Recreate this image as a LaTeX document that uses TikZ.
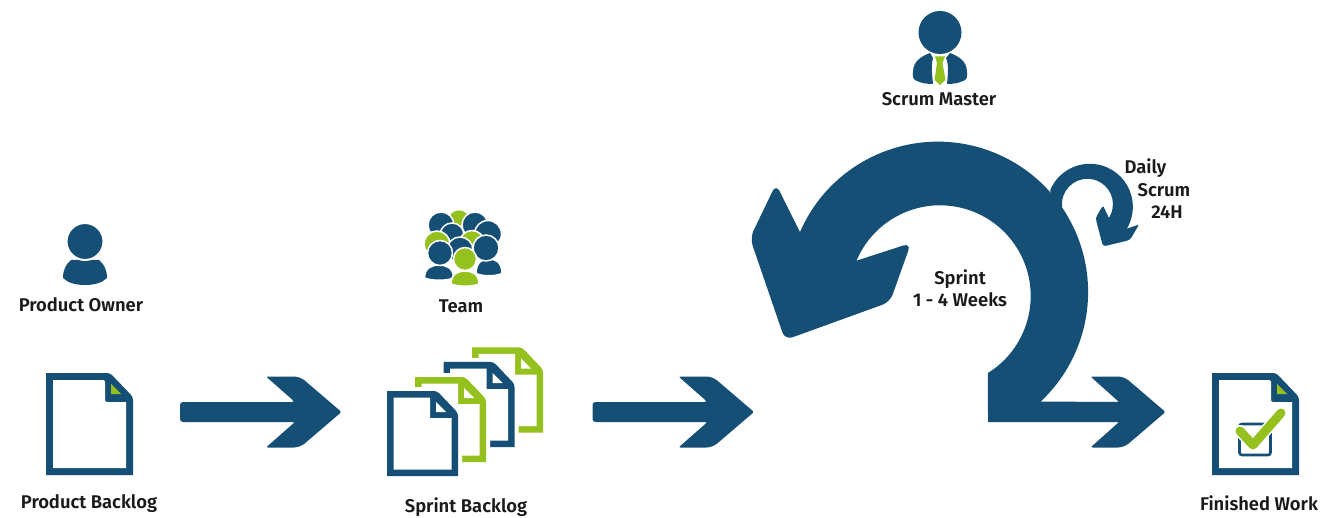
\documentclass[tikz,border=0pt]{standalone}
\usepackage{fontspec}
\setmainfont{Fira Sans}[BoldFont={* SemiBold}]
\usetikzlibrary{calc}
\definecolor{scrumblue}{HTML}{164F75}
\definecolor{scrumgreen}{HTML}{95C11F}
\definecolor{inktext}{HTML}{1A1A1A}
\tikzset{
  caption/.style={font=\bfseries\fontsize{18.4}{22}\selectfont,text=inktext,inner sep=0pt,align=center},
  blueshape/.style={fill=scrumblue,draw=none},
  greenshape/.style={fill=scrumgreen,draw=none},
  whiteshape/.style={fill=white,draw=none},
}
% large page: 87 x 102
\newcommand{\bigpage}[4]{%
  \begin{scope}[shift={(#1,#2)}]
    \fill[#3] (0,0) [rounded corners=3pt] -- (64,0) -- (87,24) [sharp corners] -- (87,102) -- (0,102) -- cycle;
    \fill[whiteshape] (7,7) [rounded corners=2pt] -- (59,7) -- (59,29) [sharp corners] -- (80,29) -- (80,95) -- (7,95) -- cycle;
    \fill[#4] (65,11) -- (65,21) -- (75,21) -- cycle;
  \end{scope}}
% small page: 71 x 85
\newcommand{\smallpage}[3]{%
  \begin{scope}[shift={(#1,#2)}]
    \filldraw[draw=white,line width=8pt,fill=white] (0,0) -- (50,0) -- (71,22) -- (71,85) -- (0,85) -- cycle;
    \fill[fill=#3] (0,0) [rounded corners=3pt] -- (50,0) -- (71,22) [sharp corners] -- (71,85) -- (0,85) -- cycle;
    \fill[whiteshape] (6.5,6.5) -- (43,6.5) -- (43,27) -- (64.5,27) -- (64.5,78.5) -- (6.5,78.5) -- cycle;
    \fill[whiteshape] (49,11) -- (49,21) -- (59,21) -- cycle;
  \end{scope}}
\newcommand{\flowarrow}[2]{%
  \fill[blueshape,shift={(#1,#2)}] [rounded corners=3pt] (0,-10) -- (115,-10) [rounded corners=2pt] -- (86,-35.5) [rounded corners=6pt] -- (120,-35.5) [rounded corners=2pt] -- (161.5,0) [rounded corners=6pt] -- (120,35.5) [rounded corners=2pt] -- (86,35.5) -- (115,10) [rounded corners=3pt] -- (0,10) -- cycle;}
% team member: x, y of head, head radius, colour
\newcommand{\teamhead}[4]{\filldraw[#4,draw=white,line width=1.5pt] (#1,#2) circle[radius=#3];}
\newcommand{\teambody}[5]{\filldraw[#5,draw=white,line width=1.5pt] (#1-#3,#2+#4) .. controls (#1-#3,#2) and (#1-#3*0.4,#2-2) .. (#1,#2-2) .. controls (#1+#3*0.4,#2-2) and (#1+#3,#2) .. (#1+#3,#2+#4) .. controls (#1+#3*0.5,#2+#4+3) and (#1-#3*0.5,#2+#4+3) .. (#1-#3,#2+#4) -- cycle;}
\begin{document}
\begin{tikzpicture}[x=1pt,y=-1pt]
\useasboundingbox (0,0) rectangle (1322,518);
\fill[white] (0,0) rectangle (1322,518);

% Product owner
\fill[blueshape] (71,260) .. controls (66,264) and (63,270) .. (63,278) .. controls (68,283) and (76,285) .. (85,285) .. controls (94,285) and (102,283) .. (107,278) .. controls (107,270) and (104,264) .. (99,260) -- cycle;
\filldraw[fill=scrumblue,draw=white,line width=2pt] (85,241.5) circle[radius=18.5];
\node[caption] (owner) at (81,305) {Product Owner};

% Product backlog
\bigpage{46}{373}{blueshape}{greenshape}
\node[caption] (backlog) at (89,503.5) {Product Backlog};

% Team
\teamhead{459}{221}{11.5}{fill=scrumgreen}
\teamhead{441}{225}{13}{fill=scrumblue}
\teamhead{475}{225}{13}{fill=scrumblue}
\teamhead{488}{234}{13.5}{fill=scrumblue}
\teamhead{452}{235}{12}{fill=scrumblue}
\teamhead{437}{244}{13}{fill=scrumgreen}
\teamhead{472}{243}{12.5}{fill=scrumgreen}
\teamhead{460}{250}{13}{fill=scrumblue}
\teambody{489}{261}{13}{12.5}{fill=scrumblue}
\teamhead{486}{248}{13}{fill=scrumblue}
\teambody{439}{267}{14.5}{11}{fill=scrumblue}
\teamhead{440}{253}{12.5}{fill=scrumblue}
\teambody{465}{273}{14}{11}{fill=scrumgreen}
\teamhead{465}{259}{11.5}{fill=scrumgreen}
\node[caption] (team) at (461,306) {Team};

% Sprint backlog
\smallpage{472}{347.5}{scrumgreen}
\smallpage{443.5}{362}{scrumblue}
\smallpage{415}{377}{scrumgreen}
\smallpage{387}{391}{scrumblue}
\node[caption] (sprintlog) at (466,507.5) {Sprint Backlog};

% Flow arrows
\flowarrow{180}{412}
\flowarrow{592.5}{412}

% Sprint loop
\coordinate (ci) at (940,296);
\coordinate (co) at (939,292.5);
\fill[blueshape] (988,422) -- ($(ci)+(58.1:90.7)$) arc[start angle=58.1,end angle=-157.1,radius=90.7]
  [rounded corners=8pt] -- (911,243) -- (890,302) -- (785,340) -- (750,238) -- (776,184)
  [sharp corners] -- ($(co)+(-156.5:151.6)$) arc[start angle=-156.5,end angle=46.8,radius=150.3]
  -- (1119,402) [rounded corners=2pt] -- (1090.5,376.5) [rounded corners=6pt] -- (1124,376.5) [rounded corners=2pt] -- (1165.5,412) [rounded corners=6pt] -- (1124,447.5) [rounded corners=2pt] -- (1090.5,447.5) [sharp corners] -- (1119,422) -- cycle;

% Daily scrum loop
\coordinate (do) at (1088,206);
\coordinate (di) at (1087,204);
\fill[blueshape] ($(do)+(-157:41)$) arc[start angle=-157,end angle=30.7,radius=43]
  [rounded corners=1.5pt] -- (1139,224.5) [rounded corners=3pt] -- (1130,240) -- (1103,246.5) -- (1095.5,218) [rounded corners=1.5pt] -- (1103,205.5)
  [sharp corners] -- ($(di)+(32.5:26)$) arc[start angle=32.5,end angle=-187,radius=25.5]
  -- (1055,222) -- cycle;

% Scrum master
\fill[blueshape] (930,53) .. controls (922,56) and (913,61) .. (913,72) .. controls (912,78) and (914,80) .. (917,81) .. controls (921,83) and (927,84) .. (933,84) .. controls (932,74) and (931,65) .. (933,58) -- cycle;
\fill[blueshape] (950,53) .. controls (958,56) and (967,61) .. (967,72) .. controls (968,78) and (966,80) .. (963,81) .. controls (959,83) and (953,84) .. (947,84) .. controls (948,74) and (949,65) .. (946,58) -- cycle;
\fill[greenshape] (935,56.5) -- (945,56.5) -- (942.5,63) -- (945.5,80) -- (940,85) -- (934.5,80) -- (937,63) -- cycle;
\fill[blueshape] (940,32.5) circle[radius=21.5];
\node[caption] (master) at (939,99) {Scrum Master};

% Loop labels
\node[caption] (daily) at (1145.5,168) {Daily};
\node[caption] (scrum) at (1164,190) {Scrum};
\node[caption] (hours) at (1167,212) {24H};
\node[caption] (sprint) at (960,288) {Sprint\\1 - 4 Weeks};

% Finished work
\bigpage{1212}{373}{blueshape}{greenshape}
\draw[scrumblue,line width=2.6pt,rounded corners=2.5pt] (1239.5,424) rectangle (1270.5,455);
\draw[white,line width=12pt,line cap=round,line join=round] (1240,431) -- (1253,445) -- (1281,413);
\draw[scrumgreen,line width=9pt,line cap=round,line join=round] (1240,431) -- (1253,445) -- (1281,413);
\node[caption] (finished) at (1259,503) {Finished Work};
\end{tikzpicture}
\end{document}
